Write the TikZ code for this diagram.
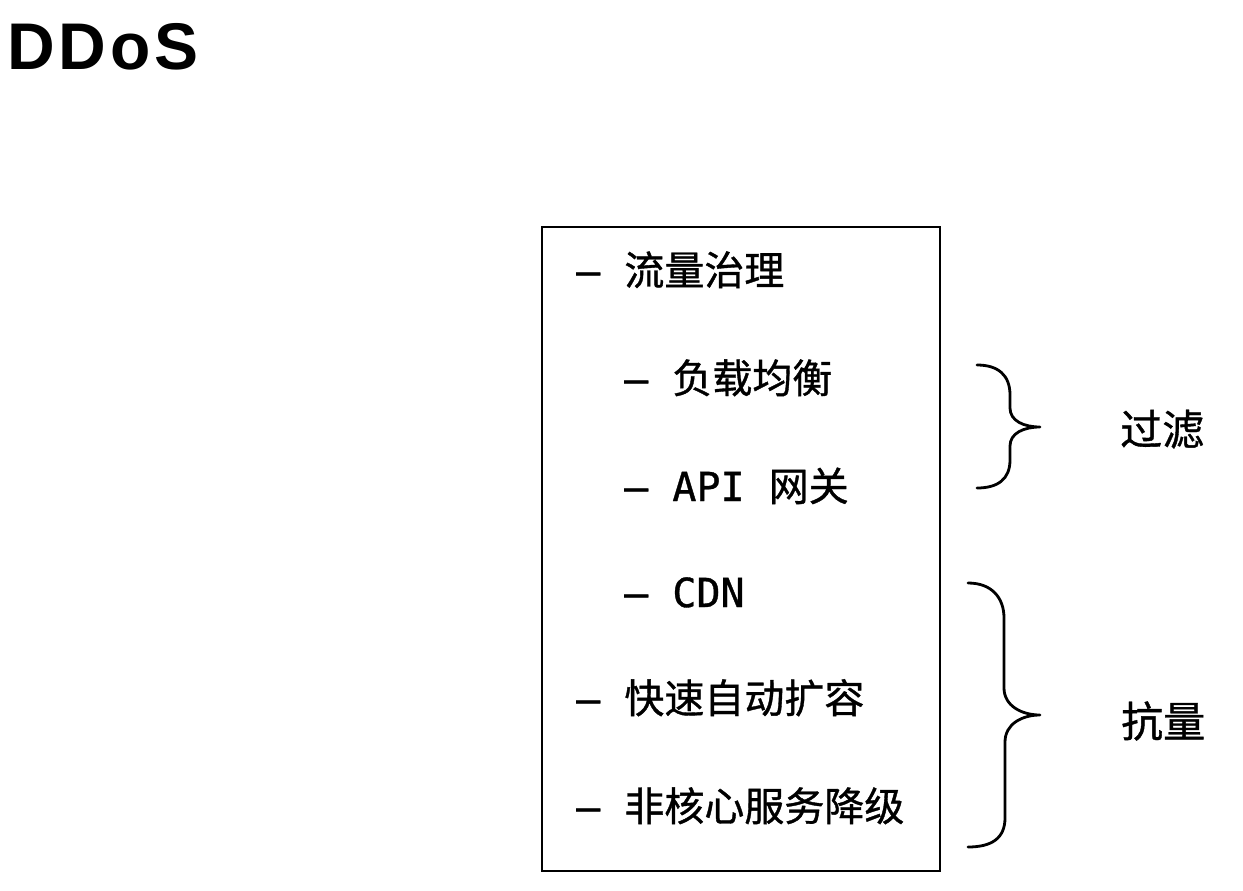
\documentclass[tikz,border=0pt]{standalone}
\usepackage{fontspec}
\newfontfamily\cjk{Noto Sans CJK SC}[FakeBold=0.9]
\newfontfamily\mono{DejaVu Sans Mono}[FakeBold=0.9]
\newfontfamily\titlefont{Liberation Sans}[LetterSpace=6]
\begin{document}
\begin{tikzpicture}[x=1pt,y=-1pt,
  item/.style={anchor=base west,inner sep=0pt,font=\fontsize{40}{48}\selectfont},
  lbl/.style={anchor=base west,inner sep=0pt,font=\fontsize{42}{50}\selectfont\cjk},
  bracepath/.style={line width=2.8pt,line cap=round,line join=round},
  boxline/.style={line width=2.4pt}]
\useasboundingbox[fill=white] (0,0) rectangle (1243,891);
\node[anchor=base west,inner sep=0pt,font=\fontsize{66}{70}\selectfont\titlefont\bfseries] (title) at (7,70) {DDoS};
\node[boxline,draw,minimum width=398pt,minimum height=644pt,inner sep=0pt,anchor=north west] (box) at (541,226) {};
\node[item] (i1) at (576,285) {{\mono – }{\cjk 流量治理}};
\node[item] (i2) at (624,393) {{\mono – }{\cjk 负载均衡}};
\node[item] (i3) at (624,501) {{\mono – API }{\cjk 网关}};
\node[item] (i4) at (624,607) {{\mono – CDN}};
\node[item] (i5) at (576,713) {{\mono – }{\cjk 快速自动扩容}};
\node[item] (i6) at (576,821) {{\mono – }{\cjk 非核心服务降级}};
\node[lbl] (l1) at (1120,445) {过滤};
\node[lbl] (l2) at (1121,737) {抗量};
\draw[bracepath] (977,365) .. controls (998,365) and (1010,375) .. (1010,395) -- (1010,408) .. controls (1010,421) and (1024,427) .. (1040,427) .. controls (1024,427) and (1010,433) .. (1010,446) -- (1010,460) .. controls (1010,479) and (998,488) .. (977,488);
\draw[bracepath] (968,583) .. controls (992,583) and (1004,598) .. (1004,618) -- (1004,688) .. controls (1004,706) and (1022,715) .. (1040,715) .. controls (1022,715) and (1005,724) .. (1005,742) -- (1005,818) .. controls (1005,838) and (992,847) .. (968,847);
\end{tikzpicture}
\end{document}
